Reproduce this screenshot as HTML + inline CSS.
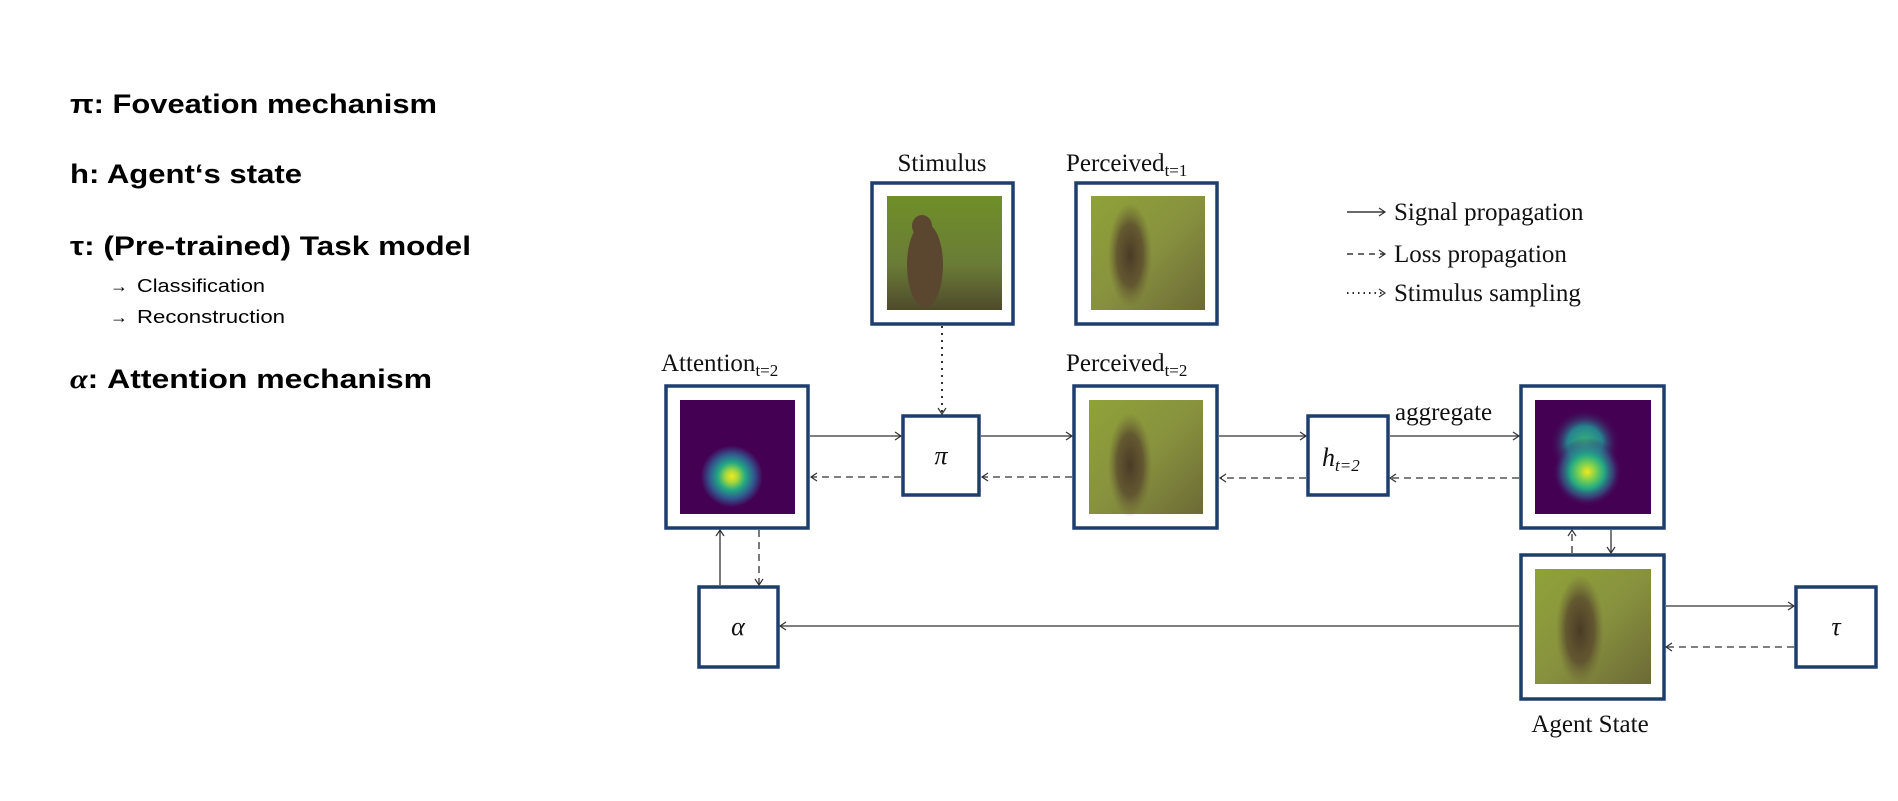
<!DOCTYPE html>
<html><head><meta charset="utf-8"><style>
html,body{margin:0;padding:0;background:#fff;}
svg{display:block;}
.lab{font-family:"Liberation Serif",serif;font-size:25px;fill:#111;}
.sub{font-family:"Liberation Serif",serif;font-size:17px;fill:#111;}
.lt{font-family:"Liberation Sans",sans-serif;font-weight:bold;font-size:27px;fill:#000;}
.ls{font-family:"Liberation Sans",sans-serif;font-size:18px;fill:#000;}
.math{font-family:"Liberation Serif",serif;font-style:italic;font-size:26px;fill:#111;}
</style></head><body>
<svg width="1898" height="801" viewBox="0 0 1898 801" xmlns="http://www.w3.org/2000/svg">
<defs>
<marker id="ah" markerWidth="10" markerHeight="10" refX="8" refY="5" orient="auto" markerUnits="userSpaceOnUse">
<path d="M2,1 L8,5 L2,9" fill="none" stroke="#333" stroke-width="1.2"/></marker>
<radialGradient id="att1" cx="0.45" cy="0.67" r="0.27">
<stop offset="0" stop-color="#f4e61e"/><stop offset="0.2" stop-color="#a6d93c"/><stop offset="0.45" stop-color="#22a884"/><stop offset="0.72" stop-color="#31588e"/><stop offset="1" stop-color="#440154"/></radialGradient>
<radialGradient id="att2a" cx="0.45" cy="0.63" r="0.3">
<stop offset="0" stop-color="#f4e61e"/><stop offset="0.25" stop-color="#7ad151"/><stop offset="0.5" stop-color="#22a884"/><stop offset="0.75" stop-color="#31688e" stop-opacity="0.6"/><stop offset="1" stop-color="#440154" stop-opacity="0"/></radialGradient>
<radialGradient id="att2b" cx="0.43" cy="0.38" r="0.3">
<stop offset="0" stop-color="#35b779"/><stop offset="0.5" stop-color="#26828e"/><stop offset="1" stop-color="#440154" stop-opacity="0"/></radialGradient>
<linearGradient id="grass" x1="0" y1="0" x2="0" y2="1"><stop offset="0" stop-color="#6f8f2a"/><stop offset="0.6" stop-color="#6a7c36"/><stop offset="1" stop-color="#4f4a2c"/></linearGradient>
<linearGradient id="blur" x1="0" y1="0" x2="1" y2="1"><stop offset="0" stop-color="#8fa238"/><stop offset="0.5" stop-color="#88923e"/><stop offset="1" stop-color="#6c6a36"/></linearGradient>
<radialGradient id="cat" cx="0.5" cy="0.5" r="0.5"><stop offset="0" stop-color="#4a3a26"/><stop offset="0.6" stop-color="#5a4a2e" stop-opacity="0.8"/><stop offset="1" stop-color="#6b6234" stop-opacity="0"/></radialGradient>
</defs>

<text class="lt" x="70" y="113" textLength="367" lengthAdjust="spacingAndGlyphs">π: Foveation mechanism</text>
<text class="lt" x="70" y="183" textLength="232" lengthAdjust="spacingAndGlyphs">h: Agent‘s state</text>
<text class="lt" x="70" y="255" textLength="401" lengthAdjust="spacingAndGlyphs">τ: (Pre-trained) Task model</text>
<text class="ls" x="110" y="292" font-size="22">→</text>
<text class="ls" x="137" y="292" textLength="128" lengthAdjust="spacingAndGlyphs">Classification</text>
<text class="ls" x="110" y="323" font-size="22">→</text>
<text class="ls" x="137" y="323" textLength="148" lengthAdjust="spacingAndGlyphs">Reconstruction</text>
<text class="lt" x="70" y="388" textLength="362" lengthAdjust="spacingAndGlyphs"><tspan font-family="Liberation Serif" font-style="italic">α</tspan>: Attention mechanism</text>

<line x1="1347" y1="212" x2="1385" y2="212" stroke="#111" stroke-width="1.3" marker-end="url(#ah)"/>
<text class="lab" x="1394" y="220" font-size="22">Signal propagation</text>
<line x1="1347" y1="254" x2="1385" y2="254" stroke="#111" stroke-width="1.3" stroke-dasharray="6,5" marker-end="url(#ah)"/>
<text class="lab" x="1394" y="262" font-size="22">Loss propagation</text>
<line x1="1347" y1="293" x2="1385" y2="293" stroke="#111" stroke-width="1.8" stroke-dasharray="1.5,4" marker-end="url(#ah)"/>
<text class="lab" x="1394" y="301" font-size="22">Stimulus sampling</text>

<text class="lab" x="942" y="171" text-anchor="middle">Stimulus</text>
<text class="lab" x="1066" y="171">Perceived<tspan class="sub" dy="5">t=1</tspan></text>
<text class="lab" x="661" y="371">Attention<tspan class="sub" dy="5">t=2</tspan></text>
<text class="lab" x="1066" y="371">Perceived<tspan class="sub" dy="5">t=2</tspan></text>
<text class="lab" x="1395" y="420">aggregate</text>
<text class="lab" x="1590" y="732" text-anchor="middle">Agent State</text>

<g stroke="#1d3f6e" stroke-width="3.5" fill="#fff">
<rect x="872" y="183" width="141" height="141"/>
<rect x="1076" y="183" width="141" height="141"/>
<rect x="666" y="386" width="142" height="142"/>
<rect x="1074" y="386" width="143" height="142"/>
<rect x="1521" y="386" width="143" height="142"/>
<rect x="1521" y="555" width="143" height="144"/>
<rect x="903" y="416" width="76" height="79"/>
<rect x="1308" y="416" width="80" height="79"/>
<rect x="699" y="587" width="79" height="80"/>
<rect x="1796" y="587" width="80" height="80"/>
</g>

<rect x="887" y="196" width="115" height="114" fill="url(#grass)"/>
<ellipse cx="925" cy="265" rx="18" ry="42" fill="#5b4630"/>
<ellipse cx="922" cy="226" rx="10" ry="11" fill="#5b4630"/>
<rect x="1091" y="196" width="114" height="114" fill="url(#blur)"/>
<ellipse cx="1130" cy="255" rx="22" ry="52" fill="url(#cat)"/>
<rect x="680" y="400" width="115" height="114" fill="url(#att1)"/>
<rect x="1089" y="400" width="114" height="114" fill="url(#blur)"/>
<ellipse cx="1130" cy="465" rx="22" ry="52" fill="url(#cat)"/>
<rect x="1535" y="400" width="116" height="114" fill="#440154"/>
<rect x="1535" y="400" width="116" height="114" fill="url(#att2b)"/>
<rect x="1535" y="400" width="116" height="114" fill="url(#att2a)"/>
<rect x="1535" y="569" width="116" height="115" fill="url(#blur)"/>
<ellipse cx="1580" cy="630" rx="24" ry="55" fill="url(#cat)"/>

<text class="math" x="941" y="464" text-anchor="middle">π</text>
<text class="math" x="1322" y="466">h<tspan font-size="17" dy="5">t=2</tspan></text>
<text class="math" x="738" y="635" text-anchor="middle">α</text>
<text class="math" x="1836" y="635" text-anchor="middle">τ</text>

<g stroke="#333" stroke-width="1.3" fill="none">
<line x1="810" y1="436" x2="901" y2="436" marker-end="url(#ah)"/>
<line x1="981" y1="436" x2="1072" y2="436" marker-end="url(#ah)"/>
<line x1="1219" y1="436" x2="1306" y2="436" marker-end="url(#ah)"/>
<line x1="1390" y1="436" x2="1519" y2="436" marker-end="url(#ah)"/>
<g stroke-dasharray="7,5">
<line x1="901" y1="477" x2="811" y2="477" marker-end="url(#ah)"/>
<line x1="1072" y1="477" x2="982" y2="477" marker-end="url(#ah)"/>
<line x1="1306" y1="478" x2="1220" y2="478" marker-end="url(#ah)"/>
<line x1="1519" y1="478" x2="1390" y2="478" marker-end="url(#ah)"/>
<line x1="1794" y1="647" x2="1666" y2="647" marker-end="url(#ah)"/>
<line x1="759" y1="530" x2="759" y2="585" marker-end="url(#ah)"/>
<line x1="1572" y1="553" x2="1572" y2="530" marker-end="url(#ah)"/>
</g>
<line x1="1666" y1="606" x2="1794" y2="606" marker-end="url(#ah)"/>
<line x1="1519" y1="626" x2="780" y2="626" marker-end="url(#ah)"/>
<line x1="720" y1="585" x2="720" y2="530" marker-end="url(#ah)"/>
<line x1="1611" y1="530" x2="1611" y2="553" marker-end="url(#ah)"/>
<line x1="942" y1="326" x2="942" y2="414" stroke-width="2" stroke-dasharray="2,5" marker-end="url(#ah)"/>
</g>
</svg>
</body></html>
